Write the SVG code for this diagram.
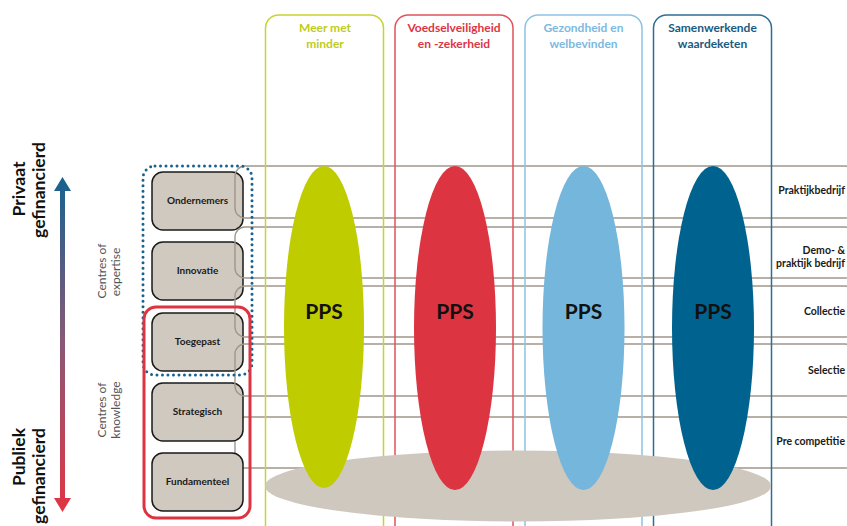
<svg xmlns="http://www.w3.org/2000/svg" width="847" height="526" viewBox="0 0 847 526">
<defs>
<linearGradient id="arrowGrad" gradientUnits="userSpaceOnUse" x1="0" y1="177" x2="0" y2="512">
<stop offset="0" stop-color="#17628f"/>
<stop offset="0.5" stop-color="#8a5876"/>
<stop offset="1" stop-color="#e23442"/>
</linearGradient>
</defs>
<style>
text{font-family:Lato,"Open Sans","Liberation Sans",sans-serif}
.box{fill:#d0c9bf;stroke:#1a1a1a;stroke-width:1.5}
.boxlbl{font-size:10px;font-weight:bold;fill:#1a1a1a;text-anchor:middle}
.band{fill:none;stroke:#a0978a;stroke-width:1.4}
.col{fill:none;stroke-width:1.5}
.title{font-size:12px;font-weight:bold;text-anchor:middle}
.pps{font-size:21px;font-weight:bold;fill:#111;text-anchor:middle}
.rlbl{font-size:10.5px;font-weight:bold;fill:#1a1a1a;text-anchor:end}
.side{font-size:17.5px;font-weight:bold;fill:#111}
.centre{font-size:12px;fill:#555;text-anchor:middle}
</style>
<rect width="847" height="526" fill="#fff"/>

<!-- bottom band (behind boxes) -->
<g id="band5">
<rect class="band" x="235" y="417" width="620" height="51" rx="10"/>
<text class="rlbl" x="845" y="445">Pre competitie</text>
</g>

<!-- nodes -->
<g id="ondernemers"><rect class="box" x="152" y="172" width="91" height="58" rx="11"/><text class="boxlbl" x="197.5" y="204">Ondernemers</text></g>
<g id="innovatie"><rect class="box" x="152" y="242" width="91" height="58" rx="11"/><text class="boxlbl" x="197.5" y="274">Innovatie</text></g>
<g id="toegepast"><rect class="box" x="152" y="313" width="91" height="58" rx="11"/><text class="boxlbl" x="197.5" y="345">Toegepast</text></g>
<g id="strategisch"><rect class="box" x="152" y="383" width="91" height="58" rx="11"/><text class="boxlbl" x="197.5" y="415">Strategisch</text></g>
<g id="fundamenteel"><rect class="box" x="152" y="453" width="91" height="58" rx="11"/><text class="boxlbl" x="197.5" y="485">Fundamenteel</text></g>

<!-- bands (connectors) -->
<g id="connectors">
<rect class="band" x="235" y="166" width="620" height="52" rx="10"/>
<rect class="band" x="235" y="227" width="620" height="51" rx="10"/>
<rect class="band" x="235" y="286" width="620" height="51" rx="10"/>
<rect class="band" x="235" y="344" width="620" height="52" rx="10"/>
</g>
<g id="band-labels">
<text class="rlbl" x="845" y="194">Praktijkbedrijf</text>
<text class="rlbl" x="845" y="254">Demo- &amp;</text>
<text class="rlbl" x="845" y="267">praktijk bedrijf</text>
<text class="rlbl" x="845" y="315">Collectie</text>
<text class="rlbl" x="845" y="374">Selectie</text>
</g>

<!-- groupings -->
<g id="expertise-group">
<rect x="143" y="166" width="109" height="209" rx="12" fill="none" stroke="#17628f" stroke-width="3" stroke-dasharray="0 5.5" stroke-linecap="round"/>
</g>
<g id="knowledge-group">
<rect x="144" y="307" width="106" height="211" rx="12" fill="none" stroke="#de3441" stroke-width="3"/>
</g>

<!-- columns -->
<g id="col-meer">
<rect class="col" x="265.5" y="15" width="118" height="530" rx="13" stroke="#c9d230"/>
<text class="title" x="325" y="32" fill="#bfcb1c">Meer met</text>
<text class="title" x="325" y="48" fill="#bfcb1c">minder</text>
</g>
<g id="col-voedsel">
<rect class="col" x="395" y="15" width="118" height="530" rx="13" stroke="#e1525e"/>
<text class="title" x="454" y="32" fill="#dc3545">Voedselveiligheid</text>
<text class="title" x="454" y="48" fill="#dc3545">en -zekerheid</text>
</g>
<g id="col-gezond">
<rect class="col" x="525" y="15" width="117" height="530" rx="13" stroke="#8cc3e5"/>
<text class="title" x="583.5" y="32" fill="#7db9df">Gezondheid en</text>
<text class="title" x="583.5" y="48" fill="#7db9df">welbevinden</text>
</g>
<g id="col-samen">
<rect class="col" x="653.5" y="15" width="118" height="530" rx="13" stroke="#2d6e95"/>
<text class="title" x="712.5" y="32" fill="#1b5a80">Samenwerkende</text>
<text class="title" x="712.5" y="48" fill="#1b5a80">waardeketen</text>
</g>

<!-- base ellipse -->
<g id="base">
<ellipse cx="518" cy="486" rx="253" ry="35.5" fill="#cfc8bf"/>
</g>

<!-- PPS ellipses -->
<g id="pps-1"><ellipse cx="324" cy="327" rx="40" ry="161" fill="#bfcc00"/><text class="pps" x="324" y="319">PPS</text></g>
<g id="pps-2"><ellipse cx="455" cy="328" rx="41" ry="162" fill="#dc3440"/><text class="pps" x="455" y="319">PPS</text></g>
<g id="pps-3"><ellipse cx="583.5" cy="328" rx="41" ry="162" fill="#74b6dc"/><text class="pps" x="583.5" y="319">PPS</text></g>
<g id="pps-4"><ellipse cx="713" cy="328" rx="41" ry="162" fill="#00628f"/><text class="pps" x="713" y="319">PPS</text></g>

<!-- axis -->
<g id="axis">
<path d="M62.5,177 L71,191 L65,191 L65,498 L71,498 L62.5,512 L54,498 L60,498 L60,191 L54,191 Z" fill="url(#arrowGrad)"/>
<text class="side" text-anchor="middle" transform="translate(25,189) rotate(-90)">Privaat</text>
<text class="side" text-anchor="middle" transform="translate(45,190) rotate(-90)">gefinancierd</text>
<text class="side" text-anchor="end" transform="translate(25,428) rotate(-90)">Publiek</text>
<text class="side" text-anchor="end" transform="translate(45,428) rotate(-90)">gefinancierd</text>
<text class="centre" transform="translate(106,271) rotate(-90)">Centres of</text>
<text class="centre" transform="translate(120,272) rotate(-90)">expertise</text>
<text class="centre" transform="translate(106,410) rotate(-90)">Centres of</text>
<text class="centre" transform="translate(120,410) rotate(-90)">knowledge</text>
</g>
</svg>
